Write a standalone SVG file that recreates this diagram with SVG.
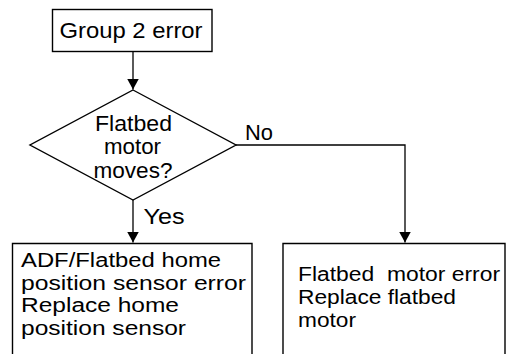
<svg xmlns="http://www.w3.org/2000/svg" width="513" height="354" viewBox="0 0 513 354">
<style>
  .shape { fill: #fff; stroke: #000; stroke-width: 1.4; }
  .line { fill: none; stroke: #000; stroke-width: 1.3; }
  text { font-family: "Liberation Sans", Arial, sans-serif; font-size: 22px; fill: #000; }
  .body { font-size: 20px; }
  .pre { white-space: pre; }
</style>
<defs>
  <marker id="arrow" markerUnits="userSpaceOnUse" markerWidth="13" markerHeight="12" refX="11" refY="6" orient="auto">
    <path d="M0,0 L11,6 L0,12 Z" fill="#000"/>
  </marker>
</defs>
<rect width="513" height="354" fill="#fff"/>
<g id="connectors">
  <line class="line" x1="133" y1="52" x2="133" y2="89.5" marker-end="url(#arrow)"/>
  <line class="line" x1="133" y1="200" x2="133" y2="242.5" marker-end="url(#arrow)"/>
  <polyline class="line" points="236,145 405,145 405,242.5" marker-end="url(#arrow)"/>
  <text x="245" y="139.5" textLength="28" lengthAdjust="spacingAndGlyphs">No</text>
  <text x="143.5" y="223.5" textLength="41" lengthAdjust="spacingAndGlyphs">Yes</text>
</g>
<g id="start">
  <rect class="shape" x="52.5" y="9.5" width="159.5" height="42"/>
  <text x="59.5" y="37.5" textLength="143" lengthAdjust="spacingAndGlyphs">Group 2 error</text>
</g>
<g id="decision">
  <polygon class="shape" points="133,90 236,145 133,200 30,145"/>
  <text x="95" y="130.5" textLength="77" lengthAdjust="spacingAndGlyphs">Flatbed</text>
  <text x="104" y="154" textLength="57" lengthAdjust="spacingAndGlyphs">motor</text>
  <text x="93.5" y="177.5" textLength="79" lengthAdjust="spacingAndGlyphs">moves?</text>
</g>
<g id="sensor-error">
  <polyline class="shape" points="12.5,356 12.5,243.5 252,243.5 252,356"/>
  <text class="body" x="21" y="266.5" textLength="200" lengthAdjust="spacingAndGlyphs">ADF/Flatbed home</text>
  <text class="body" x="21" y="289.5" textLength="225" lengthAdjust="spacingAndGlyphs">position sensor error</text>
  <text class="body" x="21" y="312" textLength="158" lengthAdjust="spacingAndGlyphs">Replace home</text>
  <text class="body" x="21" y="334.5" textLength="165" lengthAdjust="spacingAndGlyphs">position sensor</text>
</g>
<g id="motor-error">
  <polyline class="shape" points="283,356 283,243.5 505,243.5 505,356"/>
  <text class="body pre" x="298" y="281" textLength="202" lengthAdjust="spacingAndGlyphs">Flatbed  motor error</text>
  <text class="body" x="298" y="304" textLength="158" lengthAdjust="spacingAndGlyphs">Replace flatbed</text>
  <text class="body" x="298" y="327" textLength="58" lengthAdjust="spacingAndGlyphs">motor</text>
</g>
</svg>
